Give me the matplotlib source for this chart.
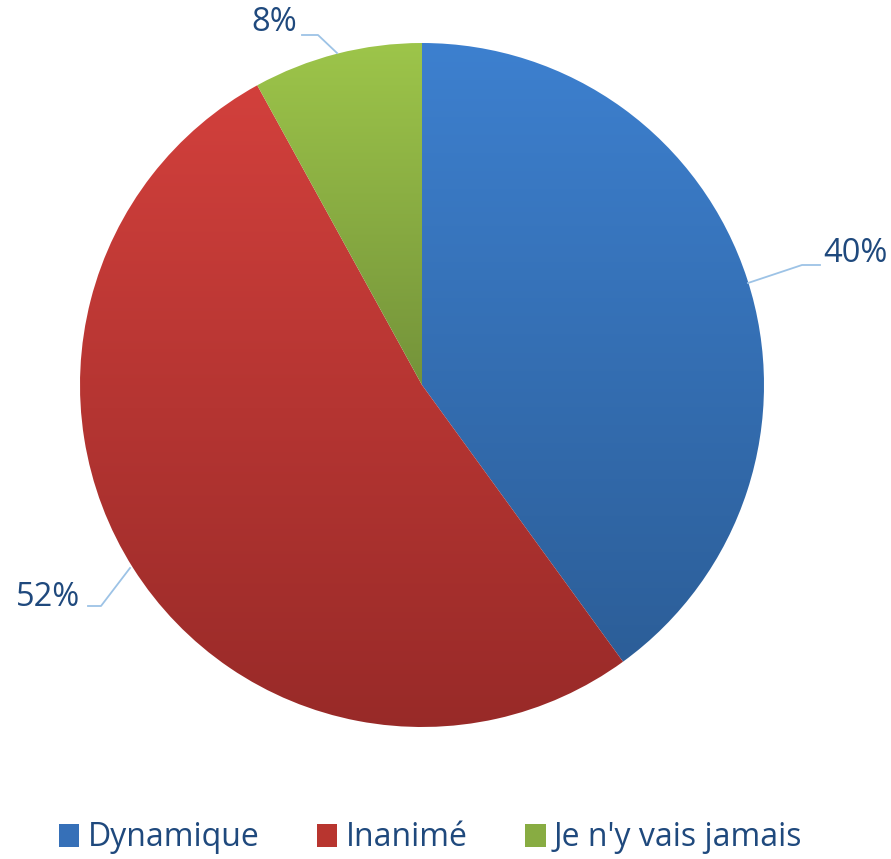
import numpy as np
import matplotlib.pyplot as plt
from matplotlib.patches import Patch
from matplotlib.colors import LinearSegmentedColormap

plt.rcParams['font.family'] = ['Open Sans', 'DejaVu Sans']

categories = ['Dynamique', 'Inanimé', "Je n'y vais jamais"]
values = [40, 52, 8]
labels = ['40%', '52%', '8%']
# gradient colours (top, bottom) for each slice
tops = ['#3D80CF', '#D2403C', '#9DC54A']
bottoms = ['#2C5E98', '#982A28', '#74933A']
text_col = '#1F497D'
line_col = '#9DC3E6'

W, H = 891, 859
cx, cy, R = 422, 385, 342   # pie centre / radius in pixels

fig = plt.figure(figsize=(W / 100, H / 100), dpi=100)
ax = fig.add_axes([0, 0, 1, 1])

wedges, _ = ax.pie(values, startangle=90, counterclock=False, radius=1,
                   wedgeprops=dict(linewidth=0))

# map data units to pixels: 1 unit = R px
ax.set_xlim(-cx / R, (W - cx) / R)
ax.set_ylim(-(H - cy) / R, cy / R)
ax.set_aspect('equal')
ax.axis('off')

# vertical gradient fill clipped to each wedge
for w, c0, c1 in zip(wedges, tops, bottoms):
    verts = w.get_path().vertices
    x0, x1 = verts[:, 0].min(), verts[:, 0].max()
    y0, y1 = verts[:, 1].min(), verts[:, 1].max()
    cmap = LinearSegmentedColormap.from_list('g', [c1, c0])
    grad = np.linspace(0, 1, 256).reshape(-1, 1)
    im = ax.imshow(grad, cmap=cmap, extent=[x0, x1, y0, y1], origin='lower',
                   aspect='auto', zorder=2)
    im.set_clip_path(w)
    w.set_facecolor('none')

def px(x, y):
    return ((x - cx) / R, (cy - y) / R)

# leader lines (pixel coordinates)
leaders = [
    [(748, 283), (802, 265), (820, 265)],
    [(130, 568), (101, 606), (88, 606)],
    [(337, 53), (318, 35), (302, 35)],
]
for pts in leaders:
    xs, ys = zip(*[px(*p) for p in pts])
    ax.plot(xs, ys, color=line_col, lw=1.3, zorder=3)

label_pos = [(855, 253), (48, 597), (274, 22)]
for lab, (x, y) in zip(labels, label_pos):
    ax.text(*px(x, y), lab, ha='center', va='center', fontsize=23.5,
            color=text_col, zorder=4)

handles = [Patch(facecolor=c) for c in ['#3670B8', '#B8352F', '#88AC42']]
leg = fig.legend(handles, categories, loc='center', bbox_to_anchor=(0.483, 1 - 838 / H),
                 ncol=3, frameon=False, fontsize=23, handlelength=0.65,
                 handleheight=0.7, handletextpad=0.25, columnspacing=1.8)
for t in leg.get_texts():
    t.set_color(text_col)

fig.savefig('out.png', dpi=100)
